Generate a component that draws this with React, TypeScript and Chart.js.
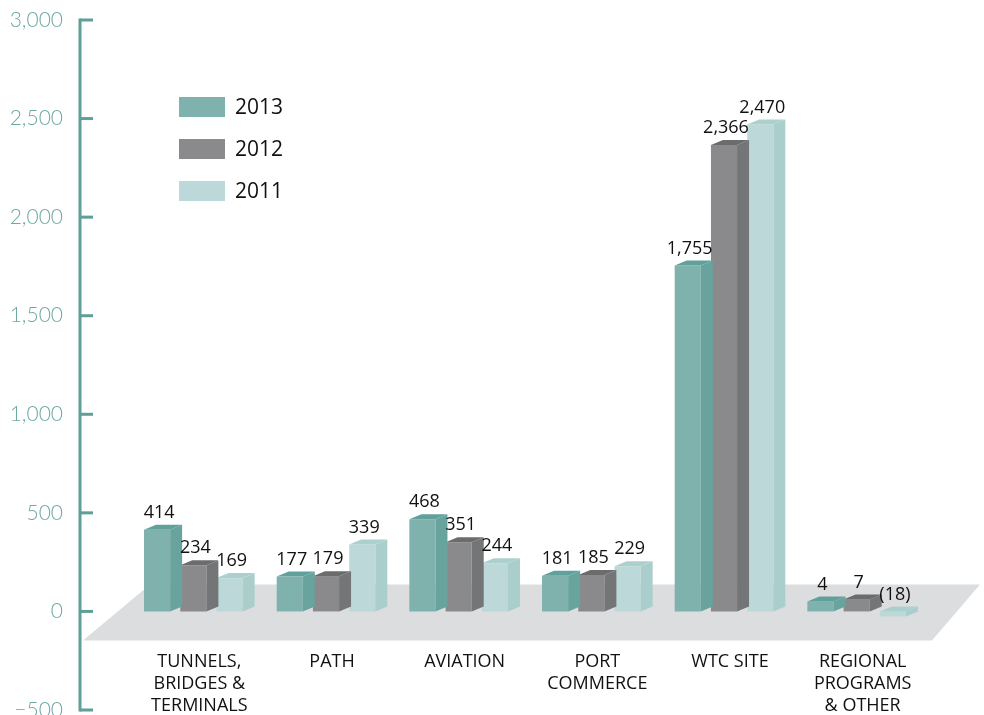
import React, { useEffect, useRef } from "react";
import { Chart, registerables } from "chart.js";

Chart.register(...registerables);

// ---- data ----
const categories: string[][] = [
  ["TUNNELS,", "BRIDGES &", "TERMINALS"],
  ["PATH"],
  ["AVIATION"],
  ["PORT", "COMMERCE"],
  ["WTC SITE"],
  ["REGIONAL", "PROGRAMS", "& OTHER"],
];
const seriesLabels = ["2013", "2012", "2011"];
const values2013 = [414, 177, 468, 181, 1755, 4];
const values2012 = [234, 179, 351, 185, 2366, 7];
const values2011 = [169, 339, 244, 229, 2470, -18];
const yMin = -500;
const yMax = 3000;
const yStep = 500;

// ---- styles ----
const frontColors = ["#7fb1ad", "#8a8a8c", "#bcd8d8"];
const sideColors = ["#68a39e", "#747577", "#a9cecc"];
const topColors = ["#62a09b", "#6b6c6e", "#acd0ce"];
const minLengths = [10, 12, 5];
const TEAL_AXIS = "#5f9e99";
const TEAL_TEXT = "#6ea8a3";
const FLOOR = "#dcdddf";
const OX = 12;
const OY = -5;
const FLOOR_TOP_VALUE = 137;
const FLOOR_BOTTOM_VALUE = -147;
const CAT_LABEL_VALUE = -256;

const fmt = (v: number) =>
  v < 0 ? `(${Math.abs(v).toLocaleString("en-US")})` : v.toLocaleString("en-US");

function poly(ctx: CanvasRenderingContext2D, pts: number[][], color: string) {
  ctx.beginPath();
  ctx.moveTo(pts[0][0], pts[0][1]);
  for (let i = 1; i < pts.length; i++) ctx.lineTo(pts[i][0], pts[i][1]);
  ctx.closePath();
  ctx.fillStyle = color;
  ctx.fill();
}

const threeD = {
  id: "threeD",
  beforeDatasetsDraw(chart: any) {
    const { ctx, chartArea, scales } = chart;
    const y = scales.y;
    const yt = y.getPixelForValue(FLOOR_TOP_VALUE);
    const yb = y.getPixelForValue(FLOOR_BOTTOM_VALUE);
    ctx.save();
    poly(
      ctx,
      [
        [chartArea.left + 23, yt],
        [chartArea.right + 57, yt],
        [chartArea.right + 9, yb],
        [chartArea.left - 44, yb],
      ],
      FLOOR
    );
    ctx.restore();
  },
  afterDatasetDraw(chart: any, args: any) {
    const { ctx } = chart;
    const i = args.index;
    ctx.save();
    args.meta.data.forEach((bar: any) => {
      const { x, y, base, width } = bar.getProps(["x", "y", "base", "width"], true);
      const l = x - width / 2;
      const r = x + width / 2;
      const top = Math.min(y, base);
      const bot = Math.max(y, base);
      poly(ctx, [[r, top], [r + OX, top + OY], [r + OX, bot + OY], [r, bot]], sideColors[i]);
      poly(ctx, [[l, top], [l + OX, top + OY], [r + OX, top + OY], [r, top]], topColors[i]);
    });
    ctx.restore();
  },
  afterDraw(chart: any) {
    const { ctx, chartArea, scales } = chart;
    const y = scales.y;
    const x = scales.x;
    ctx.save();
    // axis line & ticks
    const ax = chartArea.left - 47;
    ctx.strokeStyle = TEAL_AXIS;
    ctx.lineWidth = 3;
    ctx.beginPath();
    ctx.moveTo(ax, y.getPixelForValue(yMax) - 1.5);
    ctx.lineTo(ax, y.getPixelForValue(yMin) + 1.5);
    ctx.stroke();
    y.ticks.forEach((t: any) => {
      const py = y.getPixelForValue(t.value);
      ctx.beginPath();
      ctx.moveTo(ax, py);
      ctx.lineTo(ax + 13, py);
      ctx.stroke();
    });
    // data labels
    ctx.fillStyle = "#111";
    ctx.font = "18px 'Open Sans'";
    ctx.textAlign = "center";
    ctx.textBaseline = "bottom";
    chart.data.datasets.forEach((ds: any, i: number) => {
      const meta = chart.getDatasetMeta(i);
      meta.data.forEach((bar: any, j: number) => {
        const { x: bx, y: by, base } = bar.getProps(["x", "y", "base"], true);
        const top = Math.min(by, base);
        ctx.fillText(fmt(ds.data[j]), bx + 2, top - 8);
      });
    });
    // category labels
    ctx.font = "18px 'Open Sans'";
    ctx.textBaseline = "middle";
    const ly = y.getPixelForValue(CAT_LABEL_VALUE);
    categories.forEach((lines, j) => {
      const cx = x.getPixelForValue(j) + 6;
      lines.forEach((ln, k) => ctx.fillText(ln, cx, ly + k * 22));
    });
    // legend
    ctx.textAlign = "left";
    ctx.font = "21px 'Open Sans'";
    seriesLabels.forEach((lab, i) => {
      const ty = chartArea.top + 77 + i * 42;
      ctx.fillStyle = frontColors[i];
      ctx.fillRect(chartArea.left + 52, ty, 46, 20);
      ctx.fillStyle = "#111";
      ctx.fillText(lab, chartArea.left + 108, ty + 11);
    });
    ctx.restore();
  },
};

export default function App() {
  const ref = useRef<HTMLCanvasElement | null>(null);
  useEffect(() => {
    if (!ref.current) return;
    const chart = new Chart(ref.current, {
      type: "bar",
      data: {
        labels: categories.map((c) => c.join(" ")),
        datasets: [values2013, values2012, values2011].map((d, i) => ({
          label: seriesLabels[i],
          data: d,
          backgroundColor: frontColors[i],
          borderWidth: 0,
          minBarLength: minLengths[i],
          barPercentage: 0.72,
          categoryPercentage: 0.82,
        })),
      },
      options: {
        animation: false,
        responsive: true,
        maintainAspectRatio: false,
        layout: { padding: { left: 0, right: 61, top: 20, bottom: 5 } },
        plugins: { legend: { display: false }, tooltip: { enabled: false } },
        scales: {
          x: { display: false },
          y: {
            min: yMin,
            max: yMax,
            ticks: {
              stepSize: yStep,
              padding: 56,
              color: TEAL_TEXT,
              font: { family: "Lato", size: 21, weight: "300" as any },
              callback: (v: any) =>
                Number(v) < 0
                  ? "\u2212" + Math.abs(Number(v)).toLocaleString("en-US")
                  : Number(v).toLocaleString("en-US"),
            },
            grid: { display: false },
            border: { display: false },
            afterFit: (s: any) => {
              s.width = 127;
              s.paddingTop = 0;
              s.paddingBottom = 0;
            },
          },
        },
      },
      plugins: [threeD],
    });
    return () => chart.destroy();
  }, []);
  return (
    <div style={{ position: "fixed", left: 0, top: 0, width: 984, height: 715, background: "#fff" }}>
      <canvas ref={ref} />
    </div>
  );
}
